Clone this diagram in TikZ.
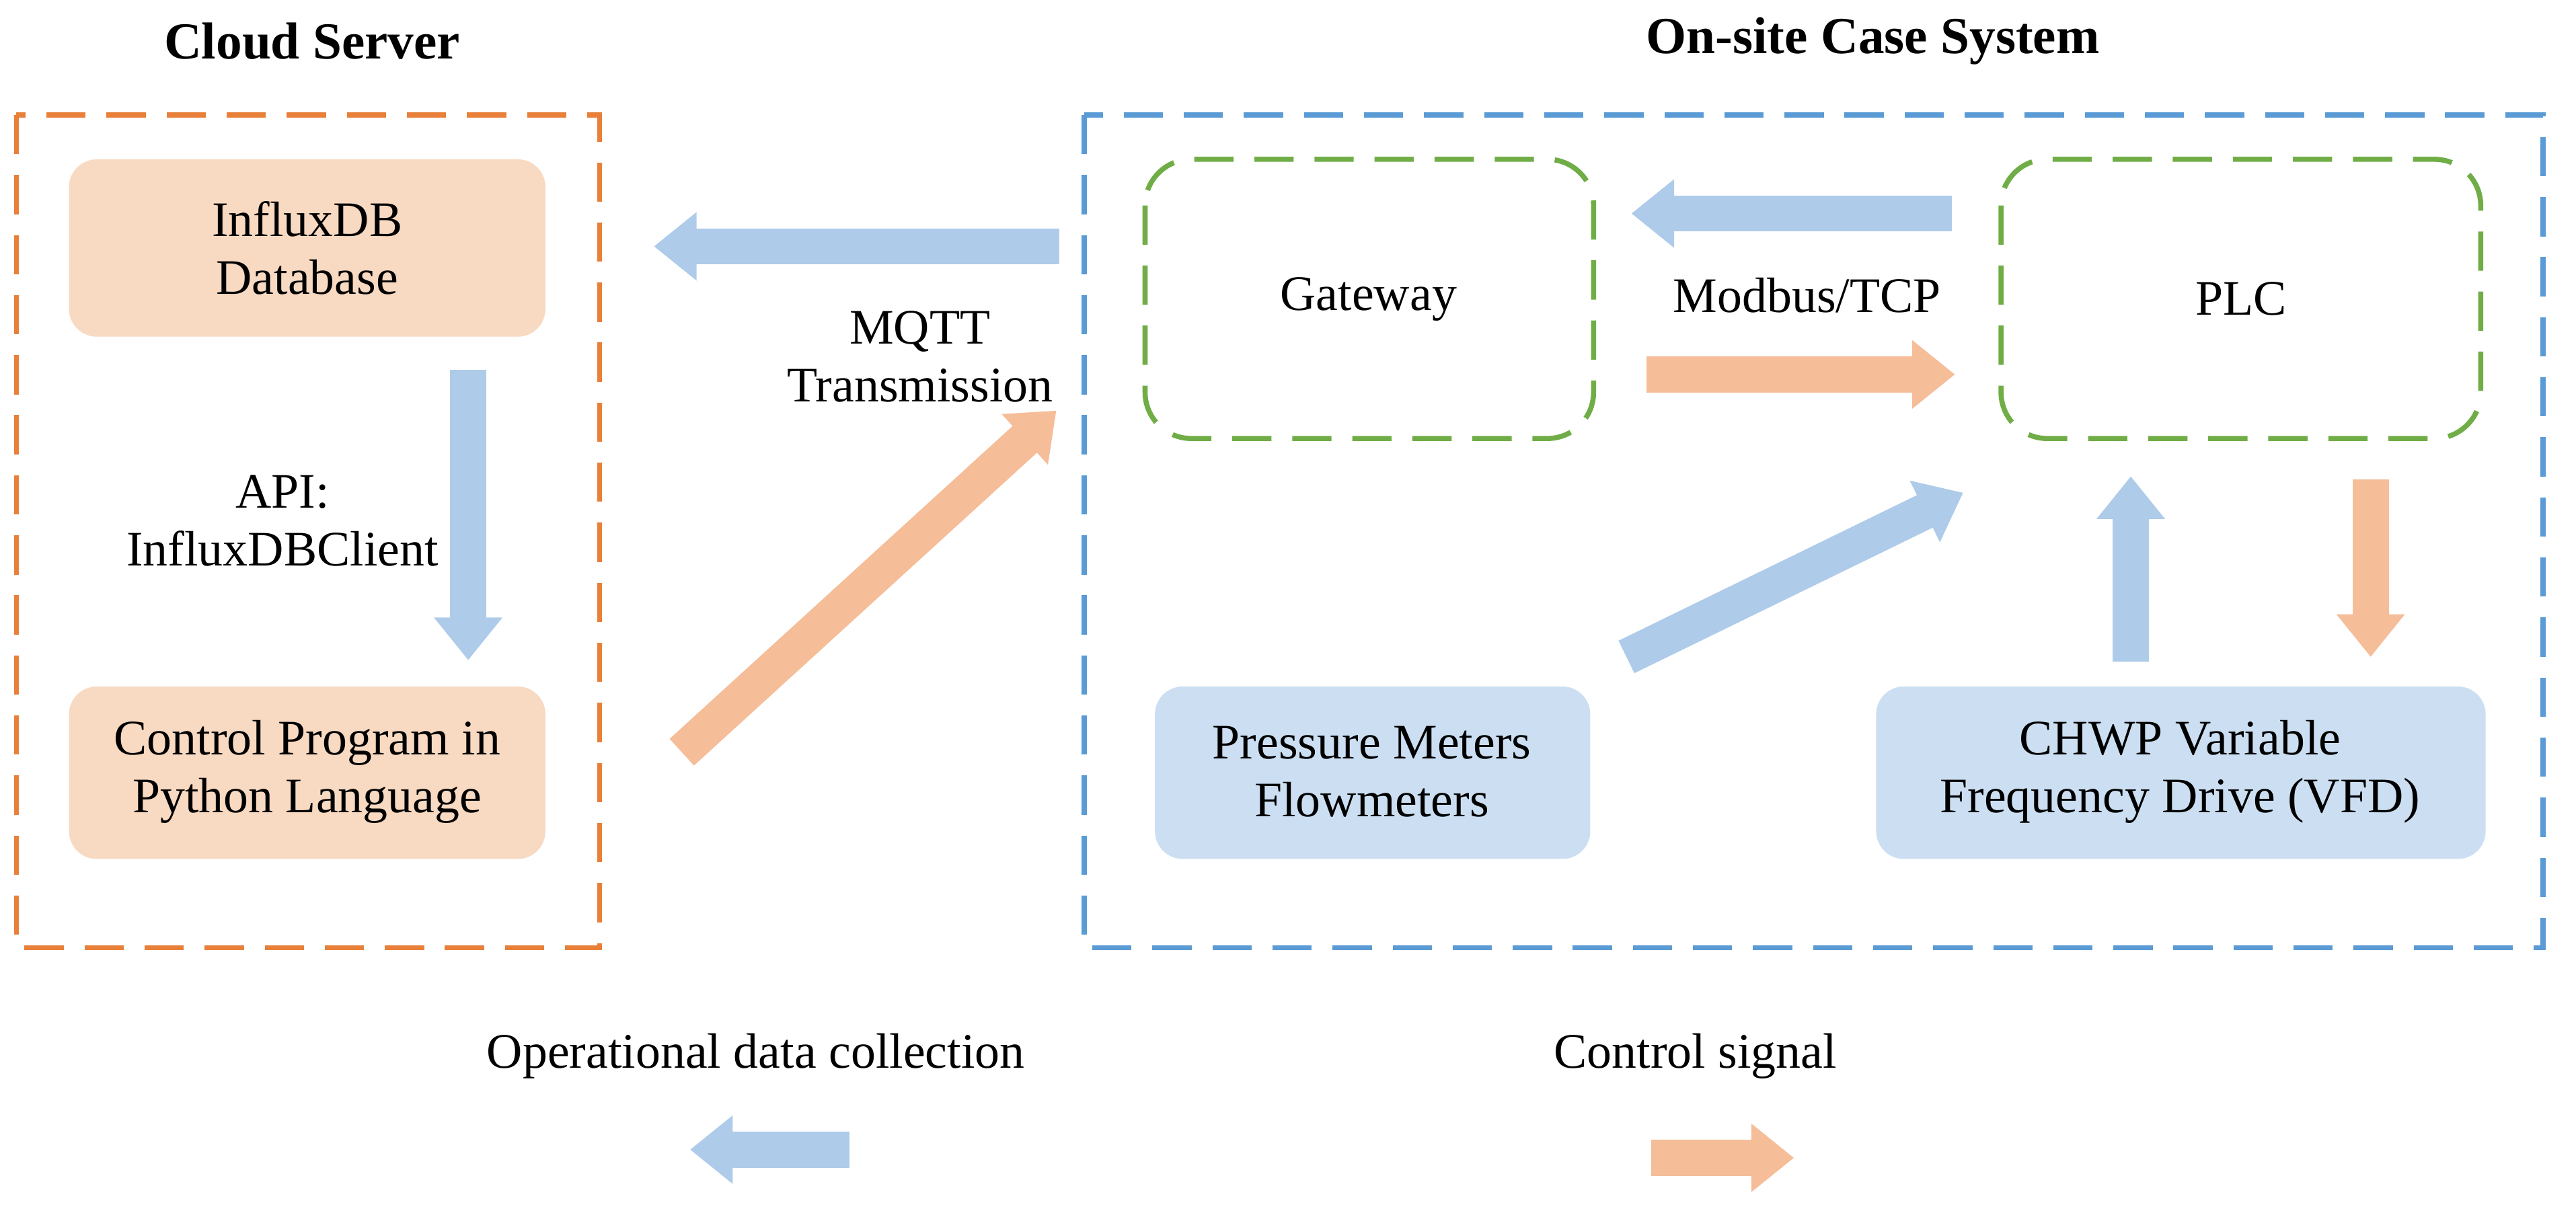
\documentclass[tikz,border=0pt]{standalone}
\usepackage{fontspec}
\setmainfont{Liberation Serif}
\usetikzlibrary{arrows.meta}
\definecolor{bA}{HTML}{AECBEA}
\definecolor{oA}{HTML}{F5BD98}
\definecolor{oF}{HTML}{F8D9C1}
\definecolor{bF}{HTML}{CCDFF2}
\definecolor{oD}{HTML}{E9803A}
\definecolor{bD}{HTML}{5B9BD5}
\definecolor{gD}{HTML}{70AD47}
\begin{document}
\begin{tikzpicture}[x=0.025cm,y=-0.025cm,
  dbox/.style={line width=2.2pt,dash pattern=on 17pt off 9pt},
  gbox/.style={dbox,draw=gD,rounded corners=20pt},
  fbox/.style={rounded corners=12pt},
  txt/.style={font=\fontsize{21.5}{25}\selectfont,align=center},
  ttl/.style={font=\fontsize{22.5}{27}\selectfont\bfseries},
  arr/.style={line width=0.55cm,-{Triangle[width=1.0cm,length=0.65cm]}},
  barr/.style={arr,draw=bA},
  oarr/.style={arr,draw=oA}]
\useasboundingbox (0,0) rectangle (1568,741);
\draw[dbox,draw=oD] (10,70) rectangle (365,577);
\draw[dbox,draw=bD] (660,70) rectangle (1548,577);
\node[ttl] (t1) at (190,25) {Cloud Server};
\node[ttl] (t2) at (1140,25) {On-site Case System};
\fill[oF,fbox] (42,97) rectangle (332,205);
\node[txt] (db) at (187,151) {InfluxDB\\Database};
\fill[oF,fbox] (42,418) rectangle (332,523);
\node[txt] (cp) at (187,470) {Control Program in\\Python Language};
\draw[gbox] (697,97) rectangle (970,267);
\node[txt] (gw) at (833,182) {Gateway};
\draw[gbox] (1218,97) rectangle (1510,267);
\node[txt] (plc) at (1364,182) {PLC};
\fill[bF,fbox] (703,418) rectangle (968,523);
\node[txt] (pm) at (835,470) {Pressure Meters\\Flowmeters};
\fill[bF,fbox] (1142,418) rectangle (1513,523);
\node[txt] (vfd) at (1327,470) {CHWP Variable\\Frequency Drive (VFD)};
\node[txt] (api) at (172,317) {API:\\InfluxDBClient};
\node[txt] (mq) at (560,217) {MQTT\\Transmission};
\node[txt] (mb) at (1100,180) {Modbus/TCP};
\node[txt] (l1) at (460,643) {Operational data collection};
\node[txt] (l2) at (1032,643) {Control signal};
\coordinate (a1) at (285,225); \coordinate (a2) at (285,402);
\draw[barr] (a1) -- (a2);
\coordinate (b1) at (645,150); \coordinate (b2) at (398,150);
\draw[barr] (b1) -- (b2);
\coordinate (c1) at (415,458); \coordinate (c2) at (643,250);
\draw[oarr] (c1) -- (c2);
\coordinate (d1) at (1188,130); \coordinate (d2) at (993,130);
\draw[barr] (d1) -- (d2);
\coordinate (e1) at (1002,228); \coordinate (e2) at (1190,228);
\draw[oarr] (e1) -- (e2);
\coordinate (f1) at (990,400); \coordinate (f2) at (1195,300);
\draw[barr] (f1) -- (f2);
\coordinate (g1) at (1297,403); \coordinate (g2) at (1297,290);
\draw[barr] (g1) -- (g2);
\coordinate (h1) at (1443,292); \coordinate (h2) at (1443,400);
\draw[oarr] (h1) -- (h2);
\coordinate (i1) at (517,700); \coordinate (i2) at (420,700);
\draw[barr] (i1) -- (i2);
\coordinate (j1) at (1005,705); \coordinate (j2) at (1092,705);
\draw[oarr] (j1) -- (j2);
\end{tikzpicture}
\end{document}
